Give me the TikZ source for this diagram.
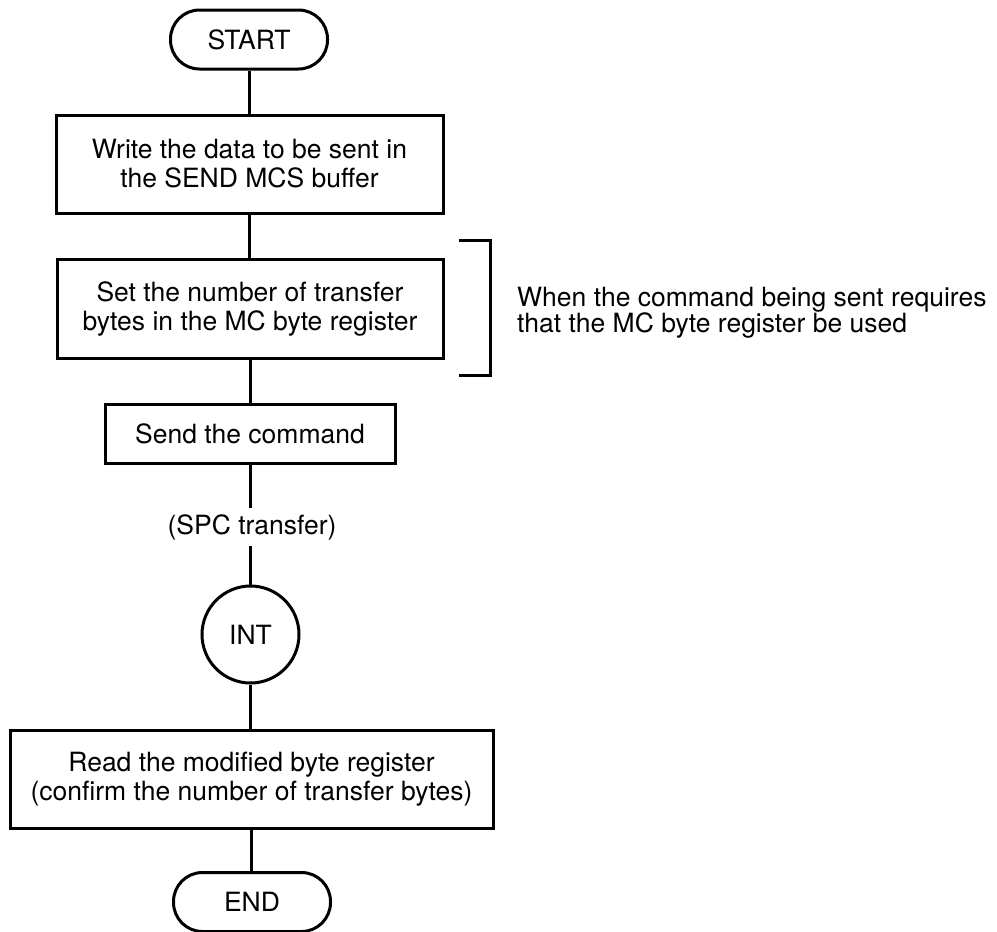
\documentclass[tikz,border=0pt]{standalone}
\usepackage{fontspec}
\setmainfont{TeX Gyre Heros}
\begin{document}
\begin{tikzpicture}[x=1pt,y=-1pt,
  every node/.style={font=\fontsize{26.5}{29}\selectfont, inner sep=0pt},
  line/.style={line width=3pt},
  procbox/.style={draw, line width=3pt, rectangle, align=center},
  term/.style={draw, line width=3pt, rounded corners=29pt, minimum width=157pt, minimum height=59pt},
  conn/.style={circle, draw, line width=3pt, minimum size=97pt},
]
\useasboundingbox (0,0) rectangle (997,932);
\node[term] (start) at (249,39.5) {START};
\node[procbox, minimum width=387pt, minimum height=98pt] (b1) at (249.5,164) {Write the data to be sent in\\the SEND MCS buffer};
\node[procbox, minimum width=386pt, minimum height=99pt] (b2) at (250,308.5) {Set the number of transfer\\bytes in the MC byte register};
\node[procbox, minimum width=290pt, minimum height=59pt] (b3) at (250,433.5) {Send the command};
\node[minimum height=37pt] (spc) at (252,527) {(SPC transfer)};
\node[conn] (int) at (250.5,634.5) {INT};
\node[procbox, minimum width=483pt, minimum height=98pt] (b4) at (251.5,779) {Read the modified byte register\\(confirm the number of transfer bytes)};
\node[term] (end) at (252,902) {END};
\node[anchor=west, align=left, font=\fontsize{26.5}{26}\selectfont] (note) at (517,313) {When the command being sent requires\\that the MC byte register be used};

\draw[line] (start.south) -- (start.south |- b1.north);
\draw[line] (b1.south) -- (b1.south |- b2.north);
\draw[line] (b2.south) -- (b2.south |- b3.north);
\draw[line] (b3.south) -- (b3.south |- spc.north);
\draw[line] (b3.south |- spc.south) -- (b3.south |- int.north);
\draw[line] (int.south) -- (int.south |- b4.north);
\draw[line] (b4.south) -- (b4.south |- end.north);

\coordinate (brtop) at (459,240);
\coordinate (brbot) at (459,375);
\draw[line] (brtop) -- (490,240) -- (490,375) -- (brbot);
\end{tikzpicture}
\end{document}
